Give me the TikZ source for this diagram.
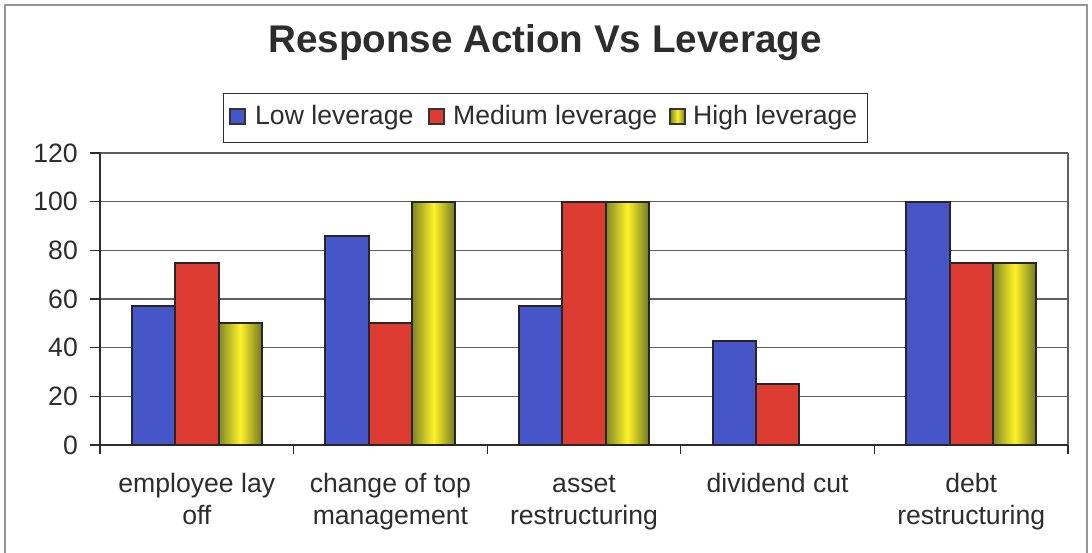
\documentclass[tikz,border=0pt]{standalone}
\usepackage{fontspec}
\setmainfont{Liberation Sans}
\definecolor{barblue}{RGB}{70,86,200}
\definecolor{barred}{RGB}{220,60,50}
\definecolor{baryel}{RGB}{255,242,40}
\definecolor{barolive}{RGB}{125,135,40}
\definecolor{ink}{RGB}{45,45,45}
\definecolor{gridc}{RGB}{95,95,95}
\definecolor{framec}{RGB}{150,150,150}
\begin{document}
\begin{tikzpicture}[x=1pt,y=-1pt,
  lbl/.style={font=\fontsize{26.6}{32}\selectfont, text=ink, inner sep=0pt},
  ttl/.style={font=\fontsize{38.6}{44}\selectfont\bfseries, text=ink, inner sep=0pt},
  gridline/.style={draw=gridc, line width=1.1pt},
  axisline/.style={draw=ink, line width=1.4pt},
  barframe/.style={draw=black!85, line width=2pt},
  bluebar/.style={barframe, fill=barblue},
  redbar/.style={barframe, fill=barred},
  yelshade/.style={left color=barolive, right color=barolive!90!black, middle color=baryel},
  yelbar/.style={barframe, yelshade},
  legsq/.style={draw=black!80, line width=1.5pt, minimum size=15pt, inner sep=0pt}
]
\useasboundingbox (0,0) rectangle (1092,553);
\fill[white] (0,0) rectangle (1092,553);
% outer chart frame
\draw[draw=framec, line width=1.2pt] (5,553) -- (5,5) -- (1087,5) -- (1087,553);
% title
\node[ttl, anchor=base] (title) at (545,53) {Response Action Vs Leverage};
% legend
\node[draw=ink, line width=1.2pt, minimum width=644pt, minimum height=49pt, inner sep=0pt, anchor=north west] (legend) at (223,93) {};
\node[legsq, fill=barblue] (sq1) at (237.5,116.5) {};
\node[lbl, anchor=base west] (leg1) at (255,125) {Low leverage};
\node[legsq, fill=barred] (sq2) at (436.5,116.5) {};
\node[lbl, anchor=base west] (leg2) at (453,125) {Medium leverage};
\node[legsq, yelshade] (sq3) at (677.5,116.5) {};
\node[lbl, anchor=base west] (leg3) at (693,125) {High leverage};
% plot area
\foreach \v in {20,40,60,80,100,120}{
  \pgfmathsetmacro\yy{445-\v*2.433}
  \draw[gridline] (100,\yy) -- (1068,\yy);
}
\draw[gridline] (1068,153) -- (1068,445);
\foreach \v in {0,20,40,60,80,100,120}{
  \pgfmathsetmacro\yy{445-\v*2.433}
  \draw[axisline, line width=1.1pt] (90,\yy) -- (100,\yy);
  \node[lbl, anchor=east] (ylab\v) at (78,\yy) {\v};
}
\draw[axisline] (100,153) -- (100,445) -- (1068,445);
\foreach \i in {0,...,5}{
  \pgfmathsetmacro\xx{100+193.6*\i}
  \draw[axisline, line width=1.1pt] (\xx,445) -- (\xx,454);
}
% bars
\foreach \i/\a/\b/\c in {0/57.14/75/50, 1/85.71/50/100, 2/57.14/100/100, 3/42.86/25/0, 4/100/75/75}{
  \pgfmathsetmacro\cx{100+193.6*(\i+0.5)}
  \pgfmathsetmacro\xa{\cx-65}
  \pgfmathsetmacro\xb{\cx-21.7}
  \pgfmathsetmacro\xc{\cx+21.7}
  \pgfmathsetmacro\xd{\cx+65}
  \pgfmathsetmacro\ya{445-\a*2.433}
  \pgfmathsetmacro\yb{445-\b*2.433}
  \pgfmathsetmacro\yc{445-\c*2.433}
  \draw[bluebar] (\xa,445) rectangle (\xb,\ya);
  \draw[redbar] (\xb,445) rectangle (\xc,\yb);
  \ifdim\c pt>0pt
    \draw[yelbar] (\xc,445) rectangle (\xd,\yc);
  \fi
}
% category labels
\node[lbl, anchor=base] (c1a) at (196.8,492) {employee lay};
\node[lbl, anchor=base] (c1b) at (196.8,524) {off};
\node[lbl, anchor=base] (c2a) at (390.4,492) {change of top};
\node[lbl, anchor=base] (c2b) at (390.4,524) {management};
\node[lbl, anchor=base] (c3a) at (584,492) {asset};
\node[lbl, anchor=base] (c3b) at (584,524) {restructuring};
\node[lbl, anchor=base] (c4a) at (777.6,492) {dividend cut};
\node[lbl, anchor=base] (c5a) at (971.2,492) {debt};
\node[lbl, anchor=base] (c5b) at (971.2,524) {restructuring};
\end{tikzpicture}
\end{document}
